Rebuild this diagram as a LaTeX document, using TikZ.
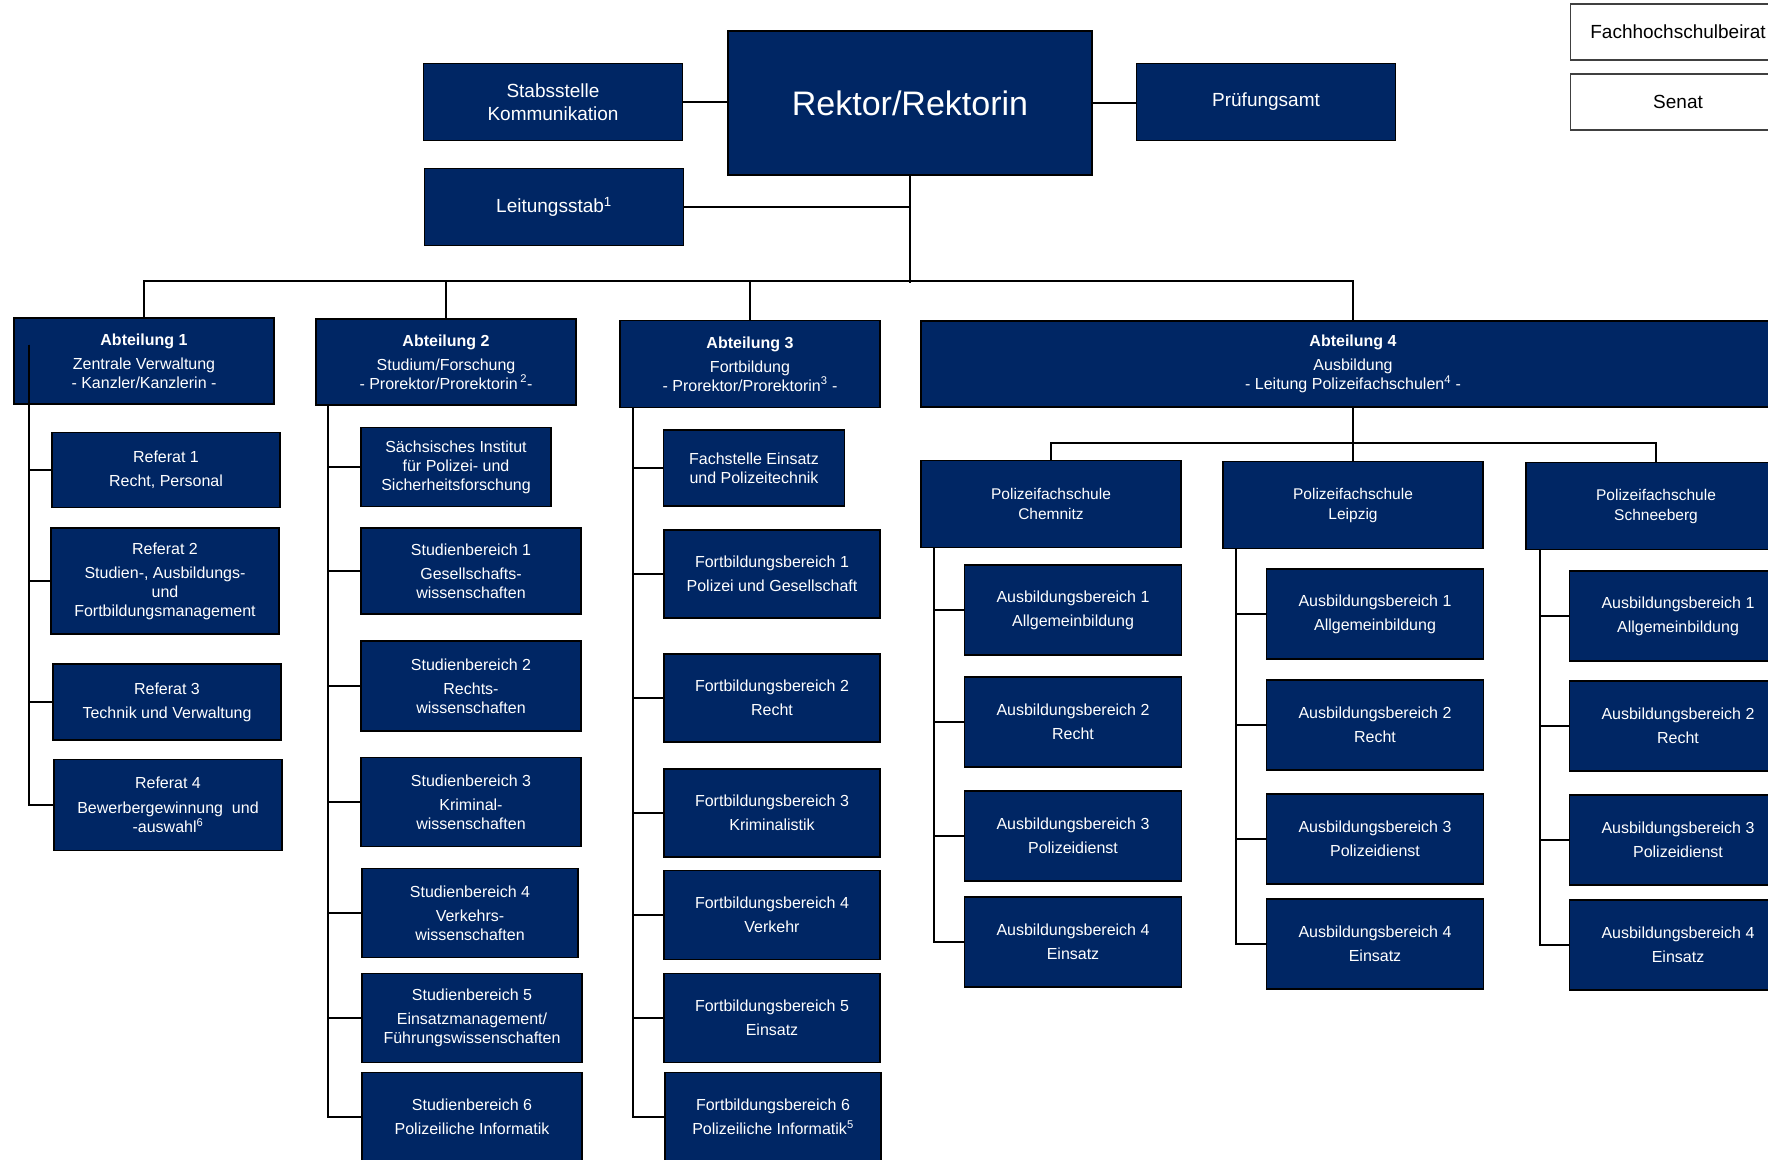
\documentclass[tikz,border=0pt]{standalone}
\usepackage{fontspec}
\setmainfont{Liberation Sans}
\definecolor{hsnavy}{RGB}{0,38,100}
\tikzstyle{unit}=[draw=black,fill=hsnavy,text=white,align=center,line width=1.5pt,inner sep=1pt,font=\fontsize{16}{19}\selectfont]
\tikzstyle{board}=[draw=black!75,fill=white,align=center,line width=1.5pt,font=\fontsize{19}{23}\selectfont,minimum width=215pt,minimum height=56pt]
\tikzstyle{topbox}=[unit,font=\fontsize{19}{22.5}\selectfont,minimum width=259pt,minimum height=77pt]
\tikzstyle{abtbox}=[unit,minimum width=260pt,minimum height=86pt]
\tikzstyle{refbox}=[unit,minimum width=228pt]
\tikzstyle{sbbox}=[unit,minimum width=220pt,minimum height=89pt]
\tikzstyle{fbbox}=[unit,minimum width=216pt,minimum height=88pt]
\tikzstyle{pfsbox}=[unit,font=\fontsize{15.5}{20}\selectfont,minimum width=260pt,minimum height=87pt]
\tikzstyle{abbox}=[unit,minimum width=217pt,minimum height=90pt]
\tikzstyle{edge}=[draw,line width=2pt,-]

\begin{document}
\begin{tikzpicture}[x=1pt,y=-1pt]
        \useasboundingbox (0,0) rectangle (1768,1159);
        \clip (0,0) rectangle (1768,1159);
        % Leitung
        \node[unit,font=\fontsize{34}{40}\selectfont,minimum width=364pt,minimum height=144pt] (rektor) at (910,103) {Rektor/Rektorin};
        \node[topbox] (stab) at (553,102) {Stabsstelle\\Kommunikation};
        \node[topbox] (pruef) at (1266,102) {Prüfungsamt};
        \node[topbox] (leit) at (554,207) {Leitungsstab\textsuperscript{1}};
        \node[board] (beirat) at (1678,32) {Fachhochschulbeirat};
        \node[board] (senat) at (1678,102) {Senat};
        % Abteilungen
        \node[abtbox] (abt1) at (144,361) {\textbf{Abteilung 1}\\[5pt]Zentrale Verwaltung\\- Kanzler/Kanzlerin -};
        \node[abtbox] (abt2) at (446,362) {\textbf{Abteilung 2}\\[5pt]Studium/Forschung\\- Prorektor/Prorektorin\,\textsuperscript{2}-};
        \node[abtbox,minimum height=87pt] (abt3) at (750,364) {\textbf{Abteilung 3}\\[5pt]Fortbildung\\- Prorektor/Prorektorin\textsuperscript{3} -};
        \node[abtbox,minimum width=864pt] (abt4) at (1353,364) {\textbf{Abteilung 4}\\[5pt]Ausbildung\\- Leitung Polizeifachschulen\textsuperscript{4} -};
        % Abteilung 1
        \node[refbox,minimum height=75pt] (ref1) at (166,470) {Referat 1\\[5pt]Recht, Personal};
        \node[refbox,minimum height=106pt] (ref2) at (165,581) {Referat 2\\[5pt]Studien-, Ausbildungs-\\und\\Fortbildungsmanagement};
        \node[refbox,minimum height=76pt] (ref3) at (167,702) {Referat 3\\[5pt]Technik und Verwaltung};
        \node[refbox,minimum height=91pt] (ref4) at (168,805) {Referat 4\\[6pt]Bewerbergewinnung\ \ und\\-auswahl\textsuperscript{6}};
        % Abteilung 2
        \node[sbbox,minimum width=190pt,minimum height=79pt] (sifo) at (456,467) {Sächsisches Institut\\für Polizei- und\\Sicherheitsforschung};
        \node[sbbox,minimum height=86pt] (sb1) at (471,571) {Studienbereich 1\\[5pt]Gesellschafts-\\wissenschaften};
        \node[sbbox,minimum height=90pt] (sb2) at (471,686) {Studienbereich 2\\[5pt]Rechts-\\wissenschaften};
        \node[sbbox] (sb3) at (471,802) {Studienbereich 3\\[5pt]Kriminal-\\wissenschaften};
        \node[sbbox,minimum width=216pt] (sb4) at (470,913) {Studienbereich 4\\[5pt]Verkehrs-\\wissenschaften};
        \node[sbbox] (sb5) at (472,1018) {Studienbereich 5\\[5pt]Einsatzmanagement/\\Führungswissenschaften};
        \node[sbbox] (sb6) at (472,1117) {Studienbereich 6\\[5pt]Polizeiliche Informatik};
        % Abteilung 3
        \node[fbbox,minimum width=181pt,minimum height=76pt] (fst) at (754,468) {Fachstelle Einsatz\\und Polizeitechnik};
        \node[fbbox] (fb1) at (772,574) {Fortbildungsbereich 1\\[5pt]Polizei und Gesellschaft};
        \node[fbbox] (fb2) at (772,698) {Fortbildungsbereich 2\\[5pt]Recht};
        \node[fbbox] (fb3) at (772,813) {Fortbildungsbereich 3\\[5pt]Kriminalistik};
        \node[fbbox,minimum height=89pt] (fb4) at (772,915) {Fortbildungsbereich 4\\[5pt]Verkehr};
        \node[fbbox,minimum height=89pt] (fb5) at (772,1018) {Fortbildungsbereich 5\\[5pt]Einsatz};
        \node[fbbox,minimum height=89pt] (fb6) at (773,1117) {Fortbildungsbereich 6\\[5pt]Polizeiliche Informatik\textsuperscript{5}};
        % Abteilung 4
        \node[pfsbox] (pfsc) at (1051,504) {Polizeifachschule\\Chemnitz};
        \node[pfsbox] (pfsl) at (1353,505) {Polizeifachschule\\Leipzig};
        \node[pfsbox] (pfss) at (1656,506) {Polizeifachschule\\Schneeberg};
        \node[abbox] (abc1) at (1073,610) {Ausbildungsbereich 1\\[5pt]Allgemeinbildung};
        \node[abbox] (abc2) at (1073,722) {Ausbildungsbereich 2\\[5pt]Recht};
        \node[abbox] (abc3) at (1073,836) {Ausbildungsbereich 3\\[5pt]Polizeidienst};
        \node[abbox] (abc4) at (1073,942) {Ausbildungsbereich 4\\[5pt]Einsatz};
        \node[abbox] (abl1) at (1375,614) {Ausbildungsbereich 1\\[5pt]Allgemeinbildung};
        \node[abbox] (abl2) at (1375,725) {Ausbildungsbereich 2\\[5pt]Recht};
        \node[abbox] (abl3) at (1375,839) {Ausbildungsbereich 3\\[5pt]Polizeidienst};
        \node[abbox] (abl4) at (1375,944) {Ausbildungsbereich 4\\[5pt]Einsatz};
        \node[abbox] (abs1) at (1678,616) {Ausbildungsbereich 1\\[5pt]Allgemeinbildung};
        \node[abbox] (abs2) at (1678,726) {Ausbildungsbereich 2\\[5pt]Recht};
        \node[abbox] (abs3) at (1678,840) {Ausbildungsbereich 3\\[5pt]Polizeidienst};
        \node[abbox] (abs4) at (1678,945) {Ausbildungsbereich 4\\[5pt]Einsatz};
        % Linien
        \coordinate (bar) at (909,281);
        \coordinate (bar4) at (1353,443);
        \draw[edge] (stab.east) -- (rektor.west |- stab.east);
        \draw[edge] (rektor.east) -- (pruef.west |- rektor.east);
        \draw[edge] (rektor.south) -- ([yshift=-2pt]rektor.south |- bar);
        \draw[edge] (leit.east) -- (leit.east -| rektor.south);
        \draw[edge] (abt1.north) -- (abt1.north |- bar) -- (abt4.north |- bar) -- (abt4.north);
        \draw[edge] (abt2.north) -- (abt2.north |- bar);
        \draw[edge] (abt3.north) -- (abt3.north |- bar);
        \foreach \k in {ref1,ref2,ref3,ref4}
          \draw[edge] ([xshift=16pt,yshift=60pt]abt1.south west) |- (\k.west);
        \foreach \k in {sifo,sb1,sb2,sb3,sb4,sb5,sb6}
          \draw[edge] ([xshift=13pt]abt2.south west) |- (\k.west);
        \foreach \k in {fst,fb1,fb2,fb3,fb4,fb5,fb6}
          \draw[edge] ([xshift=14pt]abt3.south west) |- (\k.west);
        \draw[edge] (abt4.south) -- (pfsl.north);
        \draw[edge] (pfsc.north) -- (pfsc.north |- bar4) -- (pfss.north |- bar4) -- (pfss.north);
        \foreach \k in {abc1,abc2,abc3,abc4}
          \draw[edge] ([xshift=14pt]pfsc.south west) |- (\k.west);
        \foreach \k in {abl1,abl2,abl3,abl4}
          \draw[edge] ([xshift=14pt]pfsl.south west) |- (\k.west);
        \foreach \k in {abs1,abs2,abs3,abs4}
          \draw[edge] ([xshift=15pt]pfss.south west) |- (\k.west);
      \end{tikzpicture}
\end{document}
